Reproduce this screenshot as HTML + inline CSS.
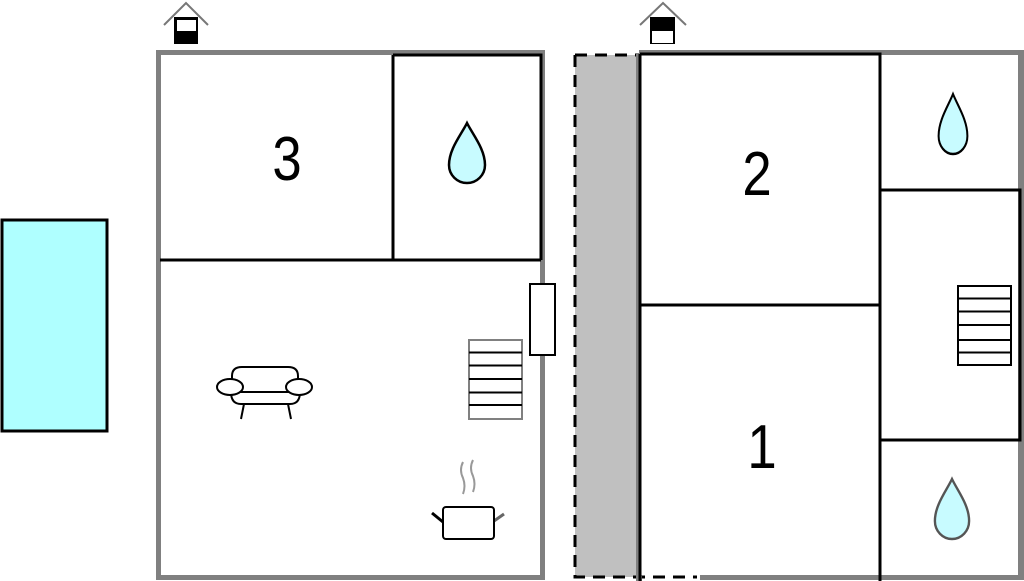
<!DOCTYPE html>
<html><head><style>html,body{margin:0;padding:0;background:#fff;width:1024px;height:581px;overflow:hidden}</style></head>
<body>
<svg width="1024" height="581" viewBox="0 0 1024 581" xmlns="http://www.w3.org/2000/svg">
<defs>
<path id="drop" d="M0,0 C-6,12 -18,26 -18,42 A18,18 0 0 0 18,42 C18,26 6,12 0,0 Z"/>
</defs>
<rect x="2" y="220" width="105" height="211" fill="#afffff" stroke="#000" stroke-width="3"/>
<rect x="158.5" y="52.5" width="384" height="525" fill="#fff" stroke="#808080" stroke-width="5"/>
<path d="M393,55 V260 M160,260 H541 M393,55 H541 V260" stroke="#000" stroke-width="3" fill="none"/>
<rect x="530" y="284" width="25" height="71" fill="#fff" stroke="#000" stroke-width="2"/>
<rect x="469" y="340" width="53" height="79" fill="#fff" stroke="#808080" stroke-width="2"/>
<path d="M469,352.5 H522 M469,365.5 H522 M469,379 H522 M469,392.5 H522 M469,405 H522" stroke="#000" stroke-width="2"/>
<g fill="#fff" stroke="#000" stroke-width="2">
<path d="M232,376 Q232,367 242,367 H288 Q298,367 298,376 V392 H232 Z"/>
<path d="M231,392 Q231,404 241,404 H290 Q300,404 300,392 Z"/>
<ellipse cx="230" cy="387" rx="13" ry="8"/>
<ellipse cx="299" cy="387" rx="13" ry="8"/>
<path d="M244,404 L241,419 M288,404 L291,419"/>
</g>
<path d="M463,462 q-4,8 0,16 q3,8 0,16 M473,460 q-4,8 0,16 q3,8 0,16" stroke="#999" stroke-width="2" fill="none"/>
<path d="M432,513 L443,522" stroke="#000" stroke-width="3"/>
<path d="M494,521 L504,514" stroke="#666" stroke-width="3"/>
<rect x="443" y="507" width="51" height="32" rx="3" fill="#fff" stroke="#000" stroke-width="2"/>
<use href="#drop" x="467" y="123" fill="#c8fbff" stroke="#000" stroke-width="2.5"/>
<text transform="translate(287,180) scale(0.85,1)" font-family="Liberation Sans, sans-serif" font-size="62" text-anchor="middle">3</text>
<rect x="575" y="55" width="62" height="522" fill="#c0c0c0"/>
<path d="M575,55 V577 H697 M575,55 H637" stroke="#000" stroke-width="3" stroke-dasharray="12,8" fill="none"/>
<path d="M639,53 H1021 V577 H700 M639,53 V581" stroke="#808080" stroke-width="6" fill="none"/>
<rect x="641" y="55" width="377" height="520" fill="#fff"/>
<path d="M640,54 H880 V581 M640,54 V581 M640,305 H880 M880,190 H1020 V440 H880" stroke="#000" stroke-width="3" fill="none"/>
<rect x="958" y="286" width="53" height="79" fill="#fff" stroke="#000" stroke-width="2"/>
<path d="M958,298.5 H1011 M958,311.5 H1011 M958,325 H1011 M958,340 H1011 M958,352.5 H1011" stroke="#000" stroke-width="2"/>
<use href="#drop" transform="translate(953,94) scale(0.8,1)" fill="#c8fbff" stroke="#000" stroke-width="2.5"/>
<use href="#drop" transform="translate(952,479) scale(0.95,1)" fill="#c8fbff" stroke="#555" stroke-width="2.5"/>
<text transform="translate(757,195) scale(0.85,1)" font-family="Liberation Sans, sans-serif" font-size="62" text-anchor="middle">2</text>
<text transform="translate(762,468) scale(0.85,1)" font-family="Liberation Sans, sans-serif" font-size="62" text-anchor="middle">1</text>
<g>
<path d="M164,25 L186,3 L208,25" stroke="#777" stroke-width="2" fill="none"/>
<rect x="174" y="17" width="24" height="27" fill="#000"/>
<rect x="177" y="20" width="19" height="11" fill="#fff"/>
</g>
<g>
<path d="M640,25 L663,3 L686,25" stroke="#777" stroke-width="2" fill="none"/>
<rect x="650" y="17" width="25" height="27" fill="#000"/>
<rect x="652" y="31" width="21" height="12" fill="#fff"/>
</g>
</svg>
</body></html>
